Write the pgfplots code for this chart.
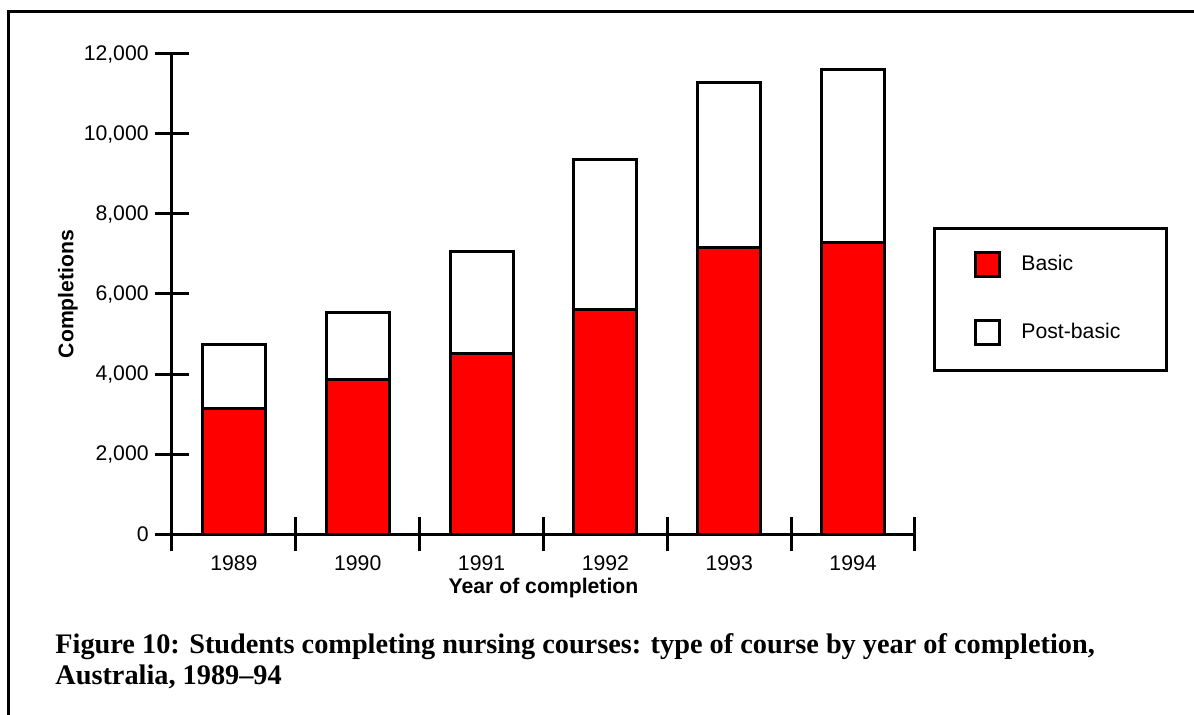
\documentclass[border=0pt]{standalone}
\usepackage{fontspec}
\setmainfont{Liberation Sans}
\newfontfamily\capfont{Liberation Serif}
\usepackage{pgfplots}
\pgfplotsset{compat=1.18}
\pgfplotsset{sqlegend/.style={legend image code/.code={\draw[##1] (0bp,-4.5bp) rectangle (12bp,7.5bp);}}}
\begin{document}
\begin{tikzpicture}
\begin{axis}[
  at={(0,0)}, anchor=south west,
  scale only axis, width=371.5bp, height=240bp,
  xmin=-0.5, xmax=5.5, ymin=0, ymax=12000,
  enlargelimits=false,
  axis lines*=left,
  axis line style={-, line width=1.5bp, black},
  tick style={line width=1.5bp, black},
  tick align=center,
  major tick length=17bp,
  ybar stacked, bar width=0.51,
  xtick={-0.5,0.5,1.5,2.5,3.5,4.5,5.5},
  xticklabels={},
  extra x ticks={0,1,2,3,4,5},
  extra x tick labels={1989,1990,1991,1992,1993,1994},
  extra x tick style={major tick length=0pt},
  ytick={0,2000,4000,6000,8000,10000,12000},
  scaled y ticks=false,
  /pgf/number format/assume math mode=true,
  /pgf/number format/1000 sep={,},
  tick label style={font=\fontsize{10.6bp}{12bp}\selectfont},
  yticklabel style={anchor=east, inner sep=0pt},
  yticklabel shift=3bp,
  xticklabel style={anchor=north, inner sep=0pt},
  xticklabel shift=10.5bp,
  every axis y label/.style={at={(rel axis cs:0,0.5)}, xshift=-52bp, rotate=90, anchor=center, font=\fontsize{10.6bp}{12bp}\selectfont\bfseries},
  every axis x label/.style={at={(rel axis cs:0.5,0)}, yshift=-29.5bp, anchor=base, font=\fontsize{10.6bp}{12bp}\selectfont\bfseries},
  ylabel={Completions},
  xlabel={Year of completion},
  legend cell align=left,
  legend style={at={(rel axis cs:1.0242,0.6396)}, anchor=north west,
    draw=black, line width=1.5bp, inner xsep=20bp, inner ysep=11.5bp,
    row sep=19.5bp, column sep=10bp,
    font=\fontsize{10.6bp}{12bp}\selectfont,
    nodes={inner sep=0pt, text width=52.5bp, text height=7.5bp, text depth=4.5bp}},
]
\addplot[fill=red, draw=black, line width=1.5bp, sqlegend]
  coordinates {(0,3150) (1,3875) (2,4525) (3,5625) (4,7150) (5,7275)};
\addlegendentry{Basic}
\addplot[fill=white, draw=black, line width=1.5bp, sqlegend]
  coordinates {(0,1600) (1,1675) (2,2525) (3,3725) (4,4125) (5,4325)};
\addlegendentry{Post-basic}
\end{axis}
\draw[line width=1.5bp] (-81.5bp,-90.5bp) -- (-81.5bp,261.25bp) -- (511bp,261.25bp);
\node[anchor=base west, inner sep=0pt, font=\capfont\bfseries\fontsize{14.15bp}{16bp}\selectfont] at (-58.5bp,-59.5bp) {Figure 10: Students completing nursing courses: type of course by year of completion,};
\node[anchor=base west, inner sep=0pt, font=\capfont\bfseries\fontsize{14.15bp}{16bp}\selectfont] at (-58.5bp,-75bp) {Australia, 1989–94};
\pgfresetboundingbox
\path (-86bp,-90.5bp) rectangle (511bp,267bp);
\end{tikzpicture}
\end{document}
